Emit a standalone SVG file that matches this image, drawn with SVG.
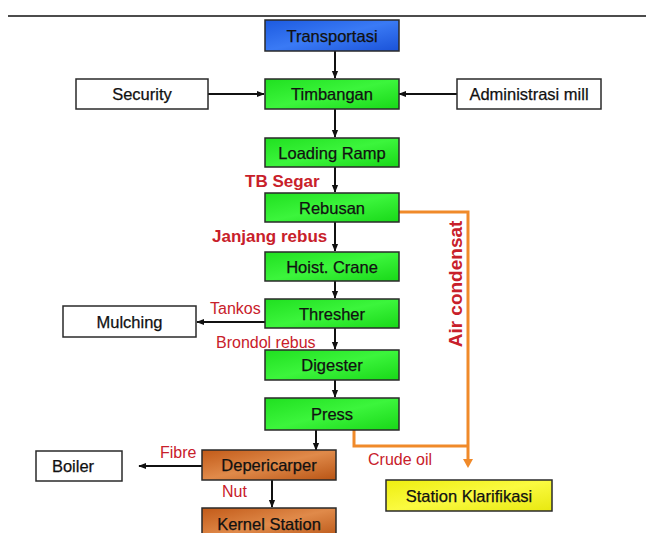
<svg xmlns="http://www.w3.org/2000/svg" width="646" height="533" viewBox="0 0 646 533">
<defs>
<linearGradient id="gGreen" x1="0" y1="0" x2="1" y2="1"><stop offset="0" stop-color="#20e020"/><stop offset="0.5" stop-color="#3cf53c"/><stop offset="1" stop-color="#18d818"/></linearGradient>
<linearGradient id="gBlue" x1="0" y1="0" x2="1" y2="1"><stop offset="0" stop-color="#1c5ae0"/><stop offset="0.5" stop-color="#3a7af5"/><stop offset="1" stop-color="#1a52d8"/></linearGradient>
<linearGradient id="gBrown" x1="0" y1="0" x2="1" y2="1"><stop offset="0" stop-color="#c25a18"/><stop offset="0.5" stop-color="#e08a4a"/><stop offset="1" stop-color="#b85414"/></linearGradient>
<linearGradient id="gYellow" x1="0" y1="0" x2="1" y2="1"><stop offset="0" stop-color="#eeee10"/><stop offset="0.5" stop-color="#fafa40"/><stop offset="1" stop-color="#e8e810"/></linearGradient>
<marker id="ah" viewBox="0 0 10 10" refX="9" refY="5" markerWidth="4" markerHeight="4" orient="auto"><path d="M0,1 L10,5 L0,9 z" fill="#111"/></marker>
</defs>
<style>
.box{stroke:#2a2a2a;stroke-width:1.5}
.w{fill:#fff}
.g{fill:url(#gGreen)}
.b{fill:url(#gBlue)}
.br{fill:url(#gBrown)}
.y{fill:url(#gYellow)}
.t{font-family:"Liberation Sans",Arial,sans-serif;font-size:16.5px;fill:#111;stroke:#111;stroke-width:0.25;text-anchor:middle}
.lb{font-family:"Liberation Sans",Arial,sans-serif;font-size:17px;font-weight:bold;fill:#c8202a}
.lr{font-family:"Liberation Sans",Arial,sans-serif;font-size:16px;fill:#c8202a}
.c{stroke:#111;stroke-width:2;fill:none;marker-end:url(#ah)}
.o{stroke:#f08a2a;stroke-width:3;fill:none}
</style>
<line x1="8" y1="16" x2="646" y2="16" stroke="#111" stroke-width="1.5"/>
<g id="connectors">
<line class="c" x1="335" y1="51" x2="335" y2="78"/>
<line class="c" x1="208" y1="94" x2="264" y2="94"/>
<line class="c" x1="457" y1="94" x2="399" y2="94"/>
<line class="c" x1="335" y1="109" x2="335" y2="137"/>
<line class="c" x1="335" y1="167" x2="335" y2="192"/>
<line class="c" x1="335" y1="222" x2="335" y2="251"/>
<line class="c" x1="335" y1="281" x2="335" y2="298"/>
<line class="c" x1="335" y1="328" x2="335" y2="349"/>
<line class="c" x1="335" y1="380" x2="335" y2="397"/>
<line class="c" x1="265" y1="322" x2="197" y2="322"/>
<line class="c" x1="316" y1="430" x2="316" y2="450"/>
<line class="c" x1="202" y1="466" x2="139" y2="466"/>
<line class="c" x1="272" y1="480" x2="272" y2="507"/>
<polyline class="o" points="399,212 468,212 468,462"/>
<polyline class="o" points="354,430 354,446 468,446"/>
<path d="M463,459 L468,468 L473,459 z" fill="#f08a2a"/>
</g>
<g id="transportasi"><rect class="box b" x="265" y="20" width="134" height="31"/><text class="t" x="332" y="41.5">Transportasi</text></g>
<g id="security"><rect class="box w" x="76" y="79" width="132" height="30"/><text class="t" x="142" y="100">Security</text></g>
<g id="timbangan"><rect class="box g" x="265" y="79" width="134" height="30"/><text class="t" x="332" y="100">Timbangan</text></g>
<g id="administrasi"><rect class="box w" x="457" y="79" width="144" height="30"/><text class="t" x="529" y="100">Administrasi mill</text></g>
<g id="loading"><rect class="box g" x="265" y="138" width="134" height="29"/><text class="t" x="332" y="158.5">Loading Ramp</text></g>
<g id="rebusan"><rect class="box g" x="265" y="193" width="134" height="29"/><text class="t" x="332" y="213.5">Rebusan</text></g>
<g id="hoist"><rect class="box g" x="265" y="252" width="134" height="29"/><text class="t" x="332" y="272.5">Hoist. Crane</text></g>
<g id="thresher"><rect class="box g" x="265" y="299" width="134" height="29"/><text class="t" x="332" y="319.5">Thresher</text></g>
<g id="mulching"><rect class="box w" x="63" y="306" width="133" height="31"/><text class="t" x="129.5" y="327.5">Mulching</text></g>
<g id="digester"><rect class="box g" x="265" y="350" width="134" height="30"/><text class="t" x="332" y="371">Digester</text></g>
<g id="press"><rect class="box g" x="265" y="398" width="134" height="32"/><text class="t" x="332" y="419.5">Press</text></g>
<g id="depericarper"><rect class="box br" x="202" y="450" width="134" height="30"/><text class="t" x="269" y="471">Depericarper</text></g>
<g id="boiler"><rect class="box w" x="36" y="451" width="86" height="30"/><text class="t" x="73" y="472">Boiler</text></g>
<g id="kernel"><rect class="box br" x="202" y="508" width="134" height="32"/><text class="t" x="269" y="530">Kernel Station</text></g>
<g id="klarifikasi"><rect class="box y" x="386" y="480" width="166" height="31"/><text class="t" x="469" y="501.5">Station Klarifikasi</text></g>
<g id="labels">
<text class="lb" x="245" y="187">TB Segar</text>
<text class="lb" x="212" y="242">Janjang rebus</text>
<text class="lr" x="210" y="314">Tankos</text>
<text class="lr" x="216" y="348">Brondol rebus</text>
<text class="lr" x="160" y="458">Fibre</text>
<text class="lr" x="222" y="497">Nut</text>
<text class="lr" x="368" y="465">Crude oil</text>
<text class="lb" transform="translate(462,284) rotate(-90)" text-anchor="middle" style="font-size:19px">Air condensat</text>
</g>
</svg>
